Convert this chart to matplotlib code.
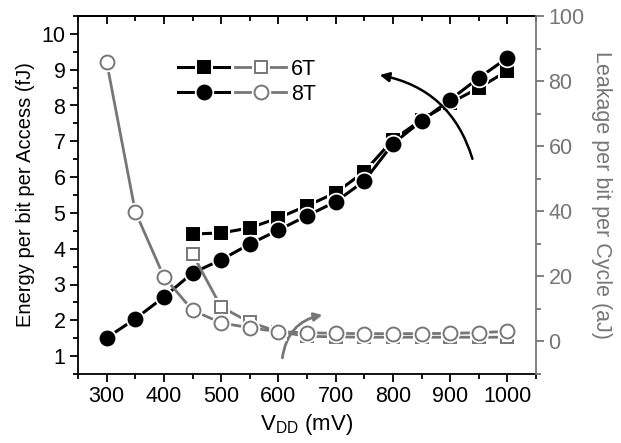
import matplotlib
matplotlib.use("Agg")
import matplotlib.pyplot as plt
from matplotlib.ticker import MultipleLocator
from matplotlib.legend_handler import HandlerTuple

plt.rcParams['font.family'] = ['Liberation Sans', 'DejaVu Sans']
plt.rcParams['mathtext.fontset'] = 'custom'
plt.rcParams['mathtext.rm'] = 'Liberation Sans'
plt.rcParams['mathtext.it'] = 'Liberation Sans:italic'

# ---- data ----
vdd_8t = [300, 350, 400, 450, 500, 550, 600, 650, 700, 750, 800, 850, 900, 950, 1000]
energy_8t = [1.51, 2.04, 2.65, 3.32, 3.69, 4.13, 4.52, 4.92, 5.31, 5.89, 6.93, 7.57, 8.16, 8.77, 9.33]
leak_8t = [85.9, 39.9, 19.9, 9.6, 5.7, 4.2, 3.0, 2.7, 2.5, 2.4, 2.4, 2.4, 2.5, 2.7, 3.1]

vdd_6t = [450, 500, 550, 600, 650, 700, 750, 800, 850, 900, 950, 1000]
energy_6t = [4.41, 4.44, 4.58, 4.86, 5.20, 5.56, 6.15, 7.04, 7.60, 8.07, 8.49, 8.97]
leak_6t = [26.9, 10.6, 5.9, 3.0, 1.6, 1.4, 1.3, 1.3, 1.3, 1.3, 1.3, 1.3]

x_ticks = [300, 400, 500, 600, 700, 800, 900, 1000]
left_ticks = [1, 2, 3, 4, 5, 6, 7, 8, 9, 10]
right_ticks = [0, 20, 40, 60, 80, 100]

GREY = '#767676'
FS = 15.5

fig = plt.figure(figsize=(6.21, 4.43), dpi=100)
ax = fig.add_axes([78/621, 1-374/443, (536-78)/621, (374-16)/443])
ax2 = ax.twinx()


def series(a, x, y, color, marker, ms, mfc, lw, z):
    ln, = a.plot(x, y, color=color, lw=lw, zorder=z)
    halo, = a.plot(x, y, ls='none', marker=marker, ms=ms + 4, mfc='white',
                   mec='white', mew=0, zorder=z + 0.1)
    mk, = a.plot(x, y, ls='none', marker=marker, ms=ms, mfc=mfc, mec=color,
                 mew=1.4, zorder=z + 0.2)
    return (ln, halo, mk)


h6e = series(ax, vdd_6t, energy_6t, 'black', 's', 9, 'black', 2.2, 3)
h8e = series(ax, vdd_8t, energy_8t, 'black', 'o', 10, 'black', 2.2, 3.5)
h6l = series(ax2, vdd_6t, leak_6t, GREY, 's', 9, 'white', 2.0, 2)
h8l = series(ax2, vdd_8t, leak_8t, GREY, 'o', 10, 'white', 2.0, 2.5)

ax.set_xlim(250, 1050)
ax.set_ylim(0.5, 10.5)
ax2.set_ylim(-10, 100)

ax.set_xticks(x_ticks)
ax.xaxis.set_minor_locator(MultipleLocator(50))
ax.set_yticks(left_ticks)
ax.yaxis.set_minor_locator(MultipleLocator(0.5))
ax2.set_yticks(right_ticks)
ax2.yaxis.set_minor_locator(MultipleLocator(10))

for s in ['left', 'bottom', 'top']:
    ax.spines[s].set_linewidth(1.3)
ax.spines['right'].set_visible(False)
for s in ['left', 'bottom', 'top']:
    ax2.spines[s].set_visible(False)
ax2.spines['right'].set_color(GREY)
ax2.spines['right'].set_linewidth(1.3)

ax.tick_params(axis='both', which='major', direction='out', length=6, width=1.3,
               labelsize=FS, pad=3)
ax.tick_params(axis='both', which='minor', direction='out', length=3.5, width=1.3)
ax.tick_params(axis='y', right=False)
ax2.tick_params(axis='y', which='major', direction='out', length=6, width=1.3,
                colors=GREY, labelsize=FS, pad=3)
ax2.tick_params(axis='y', which='minor', direction='out', length=3.5, width=1.3,
                colors=GREY)

top = ax.secondary_xaxis('top')
top.set_xticks(x_ticks)
top.xaxis.set_minor_locator(MultipleLocator(50))
top.tick_params(which='major', direction='in', length=6, width=1.3, labeltop=False)
top.tick_params(which='minor', direction='in', length=3.5, width=1.3)
top.spines['top'].set_linewidth(1.3)

ax.set_xlabel(r'V$_{\mathrm{DD}}$ (mV)', fontsize=16, labelpad=3)
ax.set_ylabel('Energy per bit per Access (fJ)', fontsize=14.5, labelpad=5)
ax2.set_ylabel('Leakage per bit per Cycle (aJ)', fontsize=15.5, color=GREY,
               rotation=270, labelpad=20)

# arrows
ax.annotate('', xy=(777, 8.85), xytext=(939, 6.51),
            arrowprops=dict(arrowstyle='-|>', connectionstyle='arc3,rad=0.3',
                            color='black', lw=1.8, mutation_scale=14,
                            shrinkA=0, shrinkB=0), zorder=6)
ax.annotate('', xy=(677, 2.15), xytext=(607, 0.95),
            arrowprops=dict(arrowstyle='-|>', connectionstyle='arc3,rad=-0.35',
                            color=GREY, lw=2.0, mutation_scale=12,
                            shrinkA=0, shrinkB=0), zorder=6)

k6 = (h6e, h6l)
k8 = (h8e, h8l)
ax.legend([k6, k8], ['6T', '8T'],
          handler_map={k6: HandlerTuple(ndivide=None, pad=0.3),
                       k8: HandlerTuple(ndivide=None, pad=0.3)},
          loc='upper left', bbox_to_anchor=(0.2, 0.905), frameon=False,
          fontsize=FS, numpoints=1, handlelength=5.0, handletextpad=0.25,
          labelspacing=0.2, borderaxespad=0)

fig.savefig('out.png', dpi=100)
